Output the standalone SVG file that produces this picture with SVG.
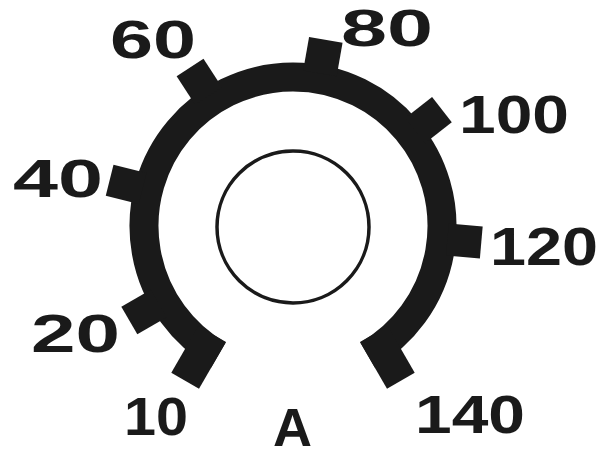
<svg xmlns="http://www.w3.org/2000/svg" width="599" height="452" viewBox="0 0 599 452">
  <style>
    .lbl { font-family: "Liberation Sans", "DejaVu Sans", Arial, sans-serif; font-weight: bold; font-size: 54px; fill: #1a1a1a; }
    .tick { fill: #1a1a1a; }
  </style>
  <rect width="599" height="452" fill="#ffffff"/>
  <g id="dial">
    <path d="M 218.5 355.04 A 149 149 0 1 1 367.5 355.04" fill="none" stroke="#1a1a1a" stroke-width="29"/>
    <g transform="translate(293 226)">
      <rect class="tick" x="134" y="0" width="54" height="32" transform="rotate(120)"/>
      <rect class="tick" x="155" y="-16" width="34" height="32" transform="rotate(150)"/>
      <rect class="tick" x="155" y="-16" width="34" height="32" transform="rotate(194)"/>
      <rect class="tick" x="155" y="-16" width="34" height="32" transform="rotate(237)"/>
      <rect class="tick" x="155" y="-17" width="34" height="34" transform="rotate(280)"/>
      <rect class="tick" x="155" y="-16" width="34" height="32" transform="rotate(322)"/>
      <rect class="tick" x="155" y="-16" width="34" height="32" transform="rotate(5)"/>
      <rect class="tick" x="134" y="-32" width="54" height="32" transform="rotate(60)"/>
    </g>
  </g>
  <g id="hub">
    <circle cx="293" cy="227" r="76" fill="none" stroke="#1a1a1a" stroke-width="3.5"/>
  </g>
  <g id="labels">
    <text class="lbl" x="110" y="58" textLength="86" lengthAdjust="spacingAndGlyphs">60</text>
    <text class="lbl" x="341" y="46" textLength="92" lengthAdjust="spacingAndGlyphs" style="font-size:51px">80</text>
    <text class="lbl" x="459" y="133" textLength="110" lengthAdjust="spacingAndGlyphs">100</text>
    <text class="lbl" x="13" y="197" textLength="90" lengthAdjust="spacingAndGlyphs">40</text>
    <text class="lbl" x="490" y="265" textLength="108" lengthAdjust="spacingAndGlyphs">120</text>
    <text class="lbl" x="31" y="352" textLength="89" lengthAdjust="spacingAndGlyphs">20</text>
    <text class="lbl" x="124" y="435" textLength="64" lengthAdjust="spacingAndGlyphs">10</text>
    <text class="lbl" x="415" y="433" textLength="110" lengthAdjust="spacingAndGlyphs">140</text>
    <text class="lbl" x="273" y="446" style="font-size:54px">A</text>
  </g>
</svg>
